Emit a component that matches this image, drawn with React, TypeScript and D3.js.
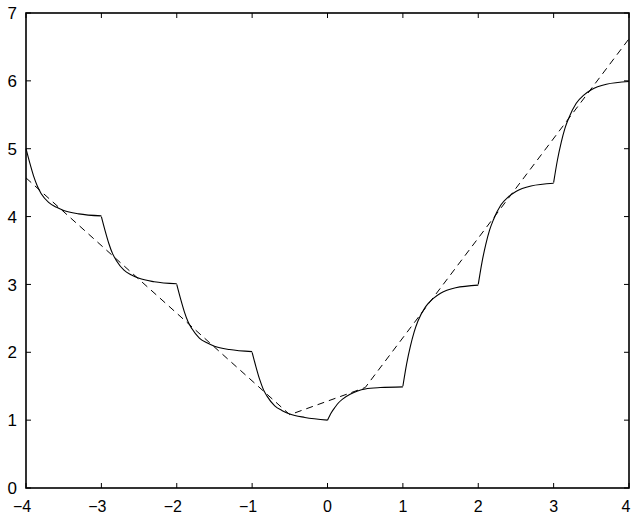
import React from "react";
import * as d3 from "d3";

const xTicks = [-4, -3, -2, -1, 0, 1, 2, 3, 4];
const yTicks = [0, 1, 2, 3, 4, 5, 6, 7];

// Solid curve, read segment by segment (x values, y values)
const seg1X = [-4, -3.95, -3.9, -3.85, -3.8, -3.7, -3.6, -3.5, -3.3, -3];
const seg1Y = [5, 4.79, 4.6, 4.45, 4.34, 4.21, 4.14, 4.09, 4.04, 4.01];
const seg2X = [-3, -2.95, -2.9, -2.85, -2.8, -2.7, -2.6, -2.5, -2.3, -2];
const seg2Y = [4, 3.79, 3.6, 3.45, 3.35, 3.21, 3.14, 3.09, 3.04, 3.01];
const seg3X = [-2, -1.95, -1.9, -1.85, -1.8, -1.7, -1.6, -1.5, -1.3, -1];
const seg3Y = [3, 2.79, 2.6, 2.45, 2.35, 2.21, 2.14, 2.09, 2.04, 2.01];
const seg4X = [-1, -0.95, -0.9, -0.85, -0.8, -0.7, -0.6, -0.5, -0.3, 0];
const seg4Y = [2, 1.79, 1.6, 1.45, 1.35, 1.21, 1.14, 1.09, 1.04, 1.0];
const seg5X = [0, 0.05, 0.1, 0.15, 0.2, 0.3, 0.4, 0.5, 0.7, 1];
const seg5Y = [1, 1.11, 1.19, 1.26, 1.31, 1.38, 1.43, 1.46, 1.48, 1.49];
const seg6X = [1, 1.05, 1.1, 1.15, 1.2, 1.3, 1.4, 1.5, 1.7, 2];
const seg6Y = [1.5, 1.83, 2.09, 2.3, 2.46, 2.67, 2.79, 2.87, 2.95, 2.99];
const seg7X = [2, 2.05, 2.1, 2.15, 2.2, 2.3, 2.4, 2.5, 2.7, 3];
const seg7Y = [3, 3.33, 3.59, 3.8, 3.95, 4.17, 4.29, 4.37, 4.45, 4.49];
const seg8X = [3, 3.05, 3.1, 3.15, 3.2, 3.3, 3.4, 3.5, 3.7, 4];
const seg8Y = [4.5, 4.83, 5.09, 5.3, 5.45, 5.67, 5.79, 5.87, 5.95, 5.99];

const segmentsX = [seg1X, seg2X, seg3X, seg4X, seg5X, seg6X, seg7X, seg8X];
const segmentsY = [seg1Y, seg2Y, seg3Y, seg4Y, seg5Y, seg6Y, seg7Y, seg8Y];

// Dashed piecewise-linear line
const dashX = [-4, -0.5, 0.5, 4];
const dashY = [4.57, 1.08, 1.48, 6.62];

const W = 631;
const H = 516;
const left = 26;
const right = 629;
const top = 13;
const bottom = 488;

export default function App() {
  const x = d3.scaleLinear().domain([-4, 4]).range([left, right]);
  const y = d3.scaleLinear().domain([0, 7]).range([bottom, top]);

  const curveLine = d3
    .line<[number, number]>()
    .x((d) => x(d[0]))
    .y((d) => y(d[1]))
    .curve(d3.curveMonotoneX);

  const straight = d3
    .line<[number, number]>()
    .x((d) => x(d[0]))
    .y((d) => y(d[1]));

  const dashPts: [number, number][] = dashX.map((v, i) => [v, dashY[i]]);
  const font = "'Liberation Sans', Arial, Helvetica, sans-serif";
  const tickLen = 5;

  const fmt = (v: number) => (v < 0 ? "\u2212" + Math.abs(v) : String(v));

  return (
    <svg
      width={W}
      height={H}
      style={{ position: "absolute", left: 0, top: 0, background: "#fff" }}
    >
      <rect x={0} y={0} width={W} height={H} fill="#fff" />
      <path
        d={straight(dashPts) || ""}
        fill="none"
        stroke="#000"
        strokeWidth={1}
        strokeDasharray="7,5"
      />
      {segmentsX.map((sx, i) => {
        const pts: [number, number][] = sx.map((v, j) => [v, segmentsY[i][j]]);
        return (
          <path
            key={i}
            d={curveLine(pts) || ""}
            fill="none"
            stroke="#000"
            strokeWidth={1.1}
          />
        );
      })}
      {/* ticks */}
      {xTicks.map((t, i) => {
        const last = i === xTicks.length - 1;
        return (
          <g key={"xt" + t}>
            <line x1={x(t)} x2={x(t)} y1={bottom} y2={bottom - tickLen} stroke="#000" strokeWidth={1} />
            <line x1={x(t)} x2={x(t)} y1={top} y2={top + tickLen} stroke="#000" strokeWidth={1} />
            <text
              x={last ? W - 0.5 : x(t) + (t < 0 ? -4 : 0)}
              y={512}
              textAnchor={last ? "end" : "middle"}
              fontFamily={font}
              fontSize={16}
              fill="#000"
            >
              {fmt(t)}
            </text>
          </g>
        );
      })}
      {yTicks.map((t) => (
        <g key={"yt" + t}>
          <line x1={left} x2={left + tickLen} y1={y(t)} y2={y(t)} stroke="#000" strokeWidth={1} />
          <line x1={right} x2={right - tickLen} y1={y(t)} y2={y(t)} stroke="#000" strokeWidth={1} />
          <text
            x={17}
            y={y(t)}
            dy="0.36em"
            textAnchor="end"
            fontFamily={font}
            fontSize={17}
            fill="#000"
          >
            {fmt(t)}
          </text>
        </g>
      ))}
      <rect
        x={left}
        y={top}
        width={right - left}
        height={bottom - top}
        fill="none"
        stroke="#000"
        strokeWidth={1.6}
      />
    </svg>
  );
}
